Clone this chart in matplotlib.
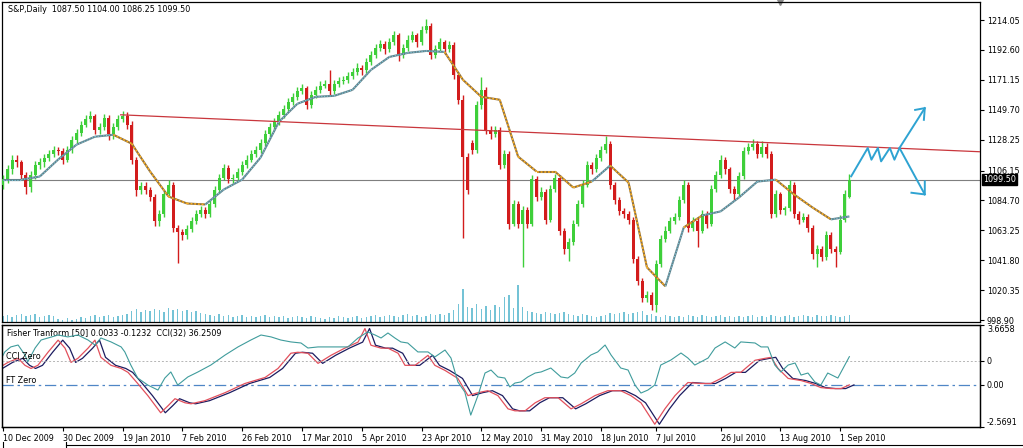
import numpy as np
import matplotlib
matplotlib.use("Agg")
import matplotlib.pyplot as plt
import matplotlib.transforms as mtransforms
from matplotlib.lines import Line2D

plt.rcParams['font.family'] = ['DejaVu Sans']

# ---- daily S&P bars ----
opens = [1096,1100,1107,1114,1112,1103,1094,1103,1110,1112,
         1115,1118,1121,1120,1114,1121,1128,1133,1139,1143,
         1145,1135,1137,1144,1132,1137,1143,1145,1139,1114,
         1092,1095,1092,1087,1070,1075,1089,1096,1065,1062,
         1060,1064,1070,1075,1078,1075,1082,1092,1101,1108,
         1100,1101,1105,1110,1114,1118,1121,1126,1132,1137,
         1141,1146,1150,1155,1159,1163,1165,1153,1160,1164,
         1167,1168,1163,1168,1170,1171,1174,1177,1180,1178,
         1184,1189,1194,1197,1193,1198,1203,1189,1194,1200,
         1203,1198,1207,1210,1189,1193,1198,1193,1196,1175,
         1157,1116,1126,1121,1153,1164,1135,1132,1135,1110,
         1118,1068,1082,1068,1078,1068,1100,1087,1091,1071,
         1093,1101,1063,1050,1055,1068,1082,1096,1110,1107,
         1115,1121,1125,1096,1085,1077,1075,1071,1043,1027,
         1015,1017,1010,1039,1057,1063,1070,1073,1085,1096,
         1065,1070,1063,1075,1068,1093,1103,1114,1107,1093,
         1089,1102,1120,1123,1125,1118,1123,1118,1075,1089,
         1078,1079,1096,1075,1071,1073,1065,1046,1050,1044,
         1060,1050,1048,1071,1087.5]
highs = [1103,1110,1117,1117,1114,1105,1106,1113,1115,1118,
         1121,1124,1123,1122,1124,1131,1136,1142,1146,1149,
         1147,1140,1147,1146,1140,1146,1149,1148,1142,1116,
         1098,1098,1094,1089,1078,1092,1099,1098,1067,1064,
         1067,1073,1078,1081,1080,1085,1095,1104,1111,1110,
         1104,1108,1113,1117,1121,1124,1129,1135,1140,1144,
         1149,1153,1158,1162,1166,1168,1167,1163,1167,1170,
         1171,1178,1171,1173,1174,1177,1180,1183,1182,1187,
         1192,1197,1200,1199,1201,1206,1205,1197,1203,1206,
         1205,1210,1215,1212,1196,1201,1200,1199,1198,1177,
         1160,1119,1128,1156,1173,1166,1138,1138,1137,1121,
         1120,1085,1084,1081,1080,1103,1102,1094,1093,1096,
         1104,1103,1065,1058,1071,1085,1099,1113,1112,1118,
         1124,1131,1127,1098,1087,1079,1077,1073,1045,1029,
         1020,1019,1042,1060,1066,1073,1076,1088,1099,1098,
         1073,1072,1078,1077,1096,1106,1117,1116,1109,1095,
         1105,1123,1126,1129,1127,1127,1126,1120,1092,1091,
         1081,1099,1098,1077,1076,1075,1067,1053,1052,1063,
         1062,1052,1074,1092,1104.0]
lows = [1093,1097,1104,1109,1100,1089,1091,1100,1107,1109,
        1113,1116,1117,1111,1112,1119,1126,1131,1137,1141,
        1132,1132,1135,1128,1129,1135,1141,1136,1111,1088,
        1089,1089,1084,1066,1066,1073,1087,1062,1040,1056,
        1057,1062,1068,1073,1072,1073,1080,1090,1099,1097,
        1097,1099,1103,1108,1112,1116,1119,1124,1130,1135,
        1139,1144,1148,1153,1157,1161,1150,1151,1158,1162,
        1165,1160,1161,1166,1168,1169,1172,1175,1175,1176,
        1182,1187,1192,1190,1191,1196,1185,1187,1192,1198,
        1195,1196,1205,1186,1187,1191,1190,1191,1172,1154,
        1058,1089,1118,1119,1150,1132,1129,1130,1107,1108,
        1064,1066,1065,1037,1065,1066,1084,1085,1068,1069,
        1091,1060,1046,1041,1053,1066,1080,1094,1104,1105,
        1113,1119,1093,1082,1074,1072,1068,1040,1024,1012,
        1012,1006,1005,1037,1055,1061,1068,1071,1083,1062,
        1063,1051,1061,1065,1066,1091,1101,1104,1090,1085,
        1087,1100,1118,1121,1115,1116,1115,1072,1073,1075,
        1074,1077,1072,1068,1069,1062,1043,1037,1041,1042,
        1047,1037,1046,1069,1086.25]
closes = [1100,1107,1114,1112,1103,1094,1103,1110,1112,1115,
          1118,1121,1120,1114,1121,1128,1133,1139,1143,1145,
          1135,1137,1144,1132,1137,1143,1145,1139,1114,1092,
          1095,1092,1087,1070,1075,1089,1096,1065,1062,1060,
          1064,1070,1075,1078,1075,1082,1092,1101,1108,1100,
          1101,1105,1110,1114,1118,1121,1126,1132,1137,1141,
          1146,1150,1155,1159,1163,1165,1153,1160,1164,1167,
          1168,1163,1168,1170,1171,1174,1177,1180,1178,1184,
          1189,1194,1197,1193,1198,1203,1189,1194,1200,1203,
          1198,1207,1210,1189,1193,1198,1193,1196,1175,1157,
          1116,1092,1121,1153,1164,1135,1132,1135,1110,1118,
          1068,1082,1068,1078,1068,1100,1087,1091,1071,1093,
          1101,1063,1050,1055,1068,1082,1096,1110,1107,1115,
          1121,1125,1096,1085,1077,1075,1071,1043,1027,1015,
          1017,1010,1039,1057,1063,1070,1073,1085,1096,1065,
          1070,1063,1075,1068,1093,1103,1114,1107,1093,1089,
          1102,1120,1123,1125,1118,1123,1118,1075,1089,1078,
          1079,1096,1075,1071,1073,1065,1046,1050,1044,1060,
          1050,1048,1071,1089,1099.5]
volumes = [6,7,5,7,8,6,7,8,5,6,7,6,
           3,2,4,2,3,5,4,6,7,5,
           6,7,5,6,7,8,
           11,13,10,12,11,13,12,10,14,12,13,11,12,10,11,9,8,
           7,6,8,6,7,5,6,7,5,6,5,6,7,5,6,
           5,6,4,5,6,5,4,6,5,4,3,5,4,6,5,4,5,6,4,5,6,7,5,6,7,
           6,5,7,8,6,7,5,6,8,7,8,7,9,
           12,18,33,15,14,18,13,16,12,17,15,25,27,14,37,15,11,
           10,9,8,10,9,8,9,10,8,7,6,8,7,6,5,
           6,7,9,8,9,10,8,9,10,11,
           7,8,6,5,7,6,5,6,5,7,
           6,5,7,6,5,6,7,5,6,5,6,5,6,7,5,6,5,7,6,5,
           6,7,5,6,7,6,5,7,6,6,7,6,5,6,7]

# trend-following average (every 4th bar) and its trend state per segment
ma_vals = [1099.6,1099.6,1101.8,1114.0,1124.7,1130.4,1131.8,1125.4,1105.4,1087.5,
           1082.5,1081.8,1092.5,1099.6,1115.4,1141.1,1154.0,1159.0,1159.7,1164.0,
           1178.3,1187.6,1190.5,1191.9,1191.2,1171.2,1159.0,1156.9,1116.1,1105.4,
           1105.4,1093.9,1098.2,1109.7,1097.5,1036.7,1023.1,1065.3,1073.9,1076.8,
           1086.8,1098.2,1099.6,1088.9,1079.6,1071.1,1073.2]
ma_trend = [1,1,1,1,1,1, -1,-1,-1,-1,-1, 1,1,1,1,1,1,1,1,1,1,1,1,1,
            -1,-1,-1,-1,-1,-1,-1,-1, 1, -1,-1,-1, 1, -1, 1,1,1,1, -1,-1,-1, 1]

# Fisher transform (50) and CCI (32), read at the turning points
fisher_bar = [-1.1,1.1,3.3,4.8,6.1,7.6,9.8,12.0,13.5,14.8,
              16.3,18.5,20.0,21.3,23.5,25.7,27.2,29.3,31.5,34.3,
              35.9,37.4,39.6,40.9,43.9,48.3,52.6,57.0,59.8,62.6,
              64.1,66.3,68.5,71.3,74.3,77.2,78.7,80.0,82.2,83.7,
              85.9,87.4,89.6,92.4,93.9,96.1,98.9,101.1,103.3,105.4,
              107.6,109.8,111.3,113.5,115.7,117.8,120.7,123.5,125.7,128.7,
              131.5,134.3,136.5,138.7,141.7,143.9,146.1,148.9,151.7,153.9,
              156.1,158.3,160.4,163.5,165.7,167.0,168.5,170.7,173.5,175.7,
              177.8,180.0,182.2,184.0]
fisher_val = [1.01,1.38,1.63,1.20,1.01,1.20,2.00,2.74,2.25,1.38,
              1.63,2.25,2.74,1.69,1.20,1.01,0.77,0.09,-0.65,-1.70,
              -1.27,-0.84,-1.09,-1.15,-0.96,-0.47,0.09,0.46,1.01,1.94,
              2.00,1.94,1.32,1.81,2.25,2.62,3.45,2.43,2.25,2.25,
              1.94,1.20,1.20,1.81,1.20,0.89,0.40,-0.65,-0.47,-0.35,
              -0.65,-1.46,-1.58,-1.58,-1.09,-0.78,-0.78,-1.46,-1.15,-0.65,
              -0.35,-0.35,-0.65,-1.09,-2.40,-1.46,-0.65,0.15,0.09,0.09,
              0.40,0.77,0.77,1.51,1.63,1.69,1.01,0.40,0.27,0.09,
              -0.16,-0.22,-0.22,0.0033]
cci_bar = [-1.1,0.4,1.7,3.3,4.8,5.4,7.0,8.3,9.8,12.0,
           14.1,16.3,18.5,20.0,21.3,23.5,25.7,26.5,27.8,29.3,
           31.5,33.7,35.2,36.5,38.0,40.2,42.4,45.2,48.3,51.1,
           53.9,56.1,58.3,60.4,62.6,64.8,66.3,68.5,70.7,72.8,
           75.0,77.2,79.3,80.9,82.2,83.7,85.2,86.5,88.0,90.2,
           92.4,93.9,96.1,97.4,98.9,100.4,101.7,103.3,104.8,106.1,
           107.6,109.1,110.2,111.3,112.6,114.1,115.7,117.0,119.1,121.3,
           122.8,124.3,125.7,127.8,129.3,130.9,132.2,134.3,135.9,137.4,
           138.7,140.2,141.7,143.0,145.2,147.4,148.9,150.4,151.7,153.3,
           154.8,157.0,159.1,160.4,163.5,164.8,166.3,167.8,169.1,170.7,
           172.2,173.5,175.0,176.5,177.8,179.3,181.5,184.0]
cci_val = [-34,76,118,134,50,-8,109,176,193,218,
           202,218,176,134,193,160,118,76,-34,-143,
           -202,-244,-143,-92,-202,-134,-92,-34,50,118,
           176,218,202,176,160,151,109,118,118,118,
           118,193,244,218,193,235,193,160,151,76,
           76,34,92,25,-176,-260,-454,-286,-101,-76,
           -134,-143,-218,-185,-176,-134,-101,-92,-59,-134,
           -143,-101,-17,50,76,134,50,-59,-76,-202,
           -269,-244,-202,-34,8,67,25,-34,-8,25,
           109,160,109,160,151,118,118,-34,-92,-34,
           -17,-118,-101,-176,-202,-101,-143,36.25]

# hand-drawn objects
trend_bar = [25.6, 212.4]
trend_price = [1146.1, 1119.6]
zig_bar = [184.4, 188.0, 188.8, 190.2, 190.9, 192.8, 193.8, 194.9, 200.4]
zig_price = [1102.0, 1122.3, 1113.9, 1122.3, 1112.7, 1122.3, 1113.9, 1122.3, 1150.9]
head_up_bar = [198.3, 200.4, 200.2]
head_up_price = [1149.6, 1150.9, 1142.5]
down_bar = [194.9, 200.4]
down_price = [1122.3, 1089.0]
head_dn_bar = [197.5, 200.4, 200.4]
head_dn_price = [1090.2, 1089.0, 1098.4]

price_ticks = [1214.05, 1192.60, 1171.15, 1149.70, 1128.25, 1106.15,
               1084.70, 1063.25, 1041.80, 1020.35, 998.90]
date_bars = [0, 13, 26, 39, 52, 65, 78, 91, 104, 117, 130, 142, 156, 169, 182]
date_labels = ["10 Dec 2009", "30 Dec 2009", "19 Jan 2010", "7 Feb 2010",
               "26 Feb 2010", "17 Mar 2010", "5 Apr 2010", "23 Apr 2010",
               "12 May 2010", "31 May 2010", "18 Jun 2010", "7 Jul 2010",
               "26 Jul 2010", "13 Aug 2010", "1 Sep 2010"]

GREEN = "#3ecf3a"
RED = "#d21c1c"
FS = 5.8

opens = np.array(opens, float)
highs = np.array(highs, float)
lows = np.array(lows, float)
closes = np.array(closes, float)
bars = np.arange(len(closes))

fig = plt.figure(figsize=(10.23, 4.48), dpi=100)
ax = fig.add_axes([2/1023, 1 - 322/448, 978/1023, 320/448])
axf = fig.add_axes([2/1023, 1 - 427/448, 978/1023, 102/448], sharex=ax)

# volume histogram behind the candles
axv = ax.twinx()
axv.bar(bars, volumes, width=0.3, color="#74c3d6", lw=0)
axv.set_ylim(0, 320)
axv.set_yticks([])
for s in axv.spines.values():
    s.set_visible(False)
ax.set_zorder(axv.get_zorder() + 1)
ax.patch.set_visible(False)

# candles
colors = np.where(closes >= opens, GREEN, RED)
ax.vlines(bars, lows, highs, colors=colors, lw=1, zorder=3)
body_lo = np.minimum(opens, closes)
body_h = np.maximum(np.abs(closes - opens), 0.7)
ax.bar(bars, body_h, bottom=body_lo, width=0.64, color=colors, lw=0, zorder=4)

# trend average, orange while falling, slate while rising
ma_bar = np.arange(0, len(closes), 4)
for k, t in enumerate(ma_trend):
    xs = ma_bar[k:k + 2]
    ys = ma_vals[k:k + 2]
    if t > 0:
        ax.plot(xs, ys, color="#62838c", lw=1.5, zorder=5, solid_capstyle="butt")
        ax.plot(xs, ys, color="#7fc9de", lw=0.8, ls=(0, (1, 1.5)), zorder=6)
    else:
        ax.plot(xs, ys, color="#8e7040", lw=1.5, zorder=5, solid_capstyle="butt")
        ax.plot(xs, ys, color="#ffb21e", lw=1.1, ls=(0, (1.2, 1.2)), zorder=6)

ax.axhline(closes[-1], color="#7f7f7f", lw=0.8, zorder=2)
ax.plot(trend_bar, trend_price, color="#c9363c", lw=0.9, zorder=5)
blue = "#2ea3d2"
ax.plot(zig_bar, zig_price, color=blue, lw=1.4, zorder=6)
ax.plot(head_up_bar, head_up_price, color=blue, lw=1.4, zorder=6)
ax.plot(down_bar, down_price, color=blue, lw=1.4, zorder=6)
ax.plot(head_dn_bar, head_dn_price, color=blue, lw=1.4, zorder=6)

ax.set_ylim(997.5, 1227.0)
ax.set_xlim(-0.2, 212.4)
ax.yaxis.tick_right()
ax.set_yticks(price_ticks)
ax.set_yticklabels([f"{v:.2f}" for v in price_ticks])
ax.tick_params(axis="y", direction="out", length=3, width=0.8, pad=2, labelsize=FS)
ax.tick_params(axis="x", bottom=False, labelbottom=False)

ax.text(0.006, 0.992, "S&P,Daily  1087.50 1104.00 1086.25 1099.50",
        transform=ax.transAxes, ha="left", va="top", fontsize=FS)
trans = mtransforms.blended_transform_factory(ax.transAxes, ax.transData)
ax.text(1.003, closes[-1], f"{closes[-1]:.2f}", transform=trans, ha="left",
        va="center", fontsize=FS, color="white", zorder=10,
        bbox=dict(facecolor="black", edgecolor="black", pad=0.8))
ax.plot(0.795, 1.0, marker="v", ms=5, color="#8a8a8a", transform=ax.transAxes,
        clip_on=False)

# indicator window
axc = axf.twinx()
axf.set_ylim(-2.5691, 3.6658)
axc.set_ylim(-554, 302)
axf.axhline(0, color="#4f86c6", lw=0.9, ls=(0, (9, 3, 2, 3)))
axc.axhline(0, color="#b5b5b5", lw=0.7, ls=(0, (2, 2)))
axc.plot(cci_bar, cci_val, color="#3f9c9c", lw=0.8)
axf.plot(np.array(fisher_bar) + 1, fisher_val, color="#1c1c60", lw=0.9)
axf.plot(fisher_bar, fisher_val, color="#e2505c", lw=0.9)

axf.yaxis.tick_right()
axf.set_yticks([3.6658, 0, -2.5691])
axf.set_yticklabels(["3.6658", "0.00", "-2.5691"])
axf.tick_params(axis="y", direction="out", length=3, width=0.8, pad=2, labelsize=FS)
labs = axf.get_yticklabels()
labs[0].set_va("top")
labs[2].set_va("bottom")
axc.set_yticks([0])
axc.set_yticklabels(["0"])
axc.tick_params(axis="y", direction="out", length=3, width=0.8, pad=2, labelsize=FS)

axf.set_xticks(date_bars)
axf.set_xticklabels(date_labels, ha="left")
axf.tick_params(axis="x", direction="out", length=3, width=0.8, pad=2, labelsize=FS)

axf.text(0.005, 0.96, "Fisher Tranform [50] 0.0033 -0.1232  CCI(32) 36.2509",
         transform=axf.transAxes, ha="left", va="top", fontsize=FS)
transf = mtransforms.blended_transform_factory(axf.transAxes, axf.transData)
transc = mtransforms.blended_transform_factory(axc.transAxes, axc.transData)
axc.text(0.004, 0, "CCI Zero", transform=transc, ha="left", va="bottom", fontsize=FS)
axf.text(0.004, 0, "FT Zero", transform=transf, ha="left", va="bottom", fontsize=FS)

for a in (ax, axf, axc):
    for s in a.spines.values():
        s.set_linewidth(0.9)
        s.set_color("black")

# bottom tab strip
fig.add_artist(Line2D([66/1023, 1], [3/448, 3/448], color="black", lw=0.8))
fig.add_artist(Line2D([66/1023, 66/1023], [0, 6/448], color="black", lw=0.8))
fig.add_artist(Line2D([3/1023, 3/1023], [0, 6/448], color="black", lw=0.8))

fig.savefig("out.png", dpi=100, facecolor="white")
